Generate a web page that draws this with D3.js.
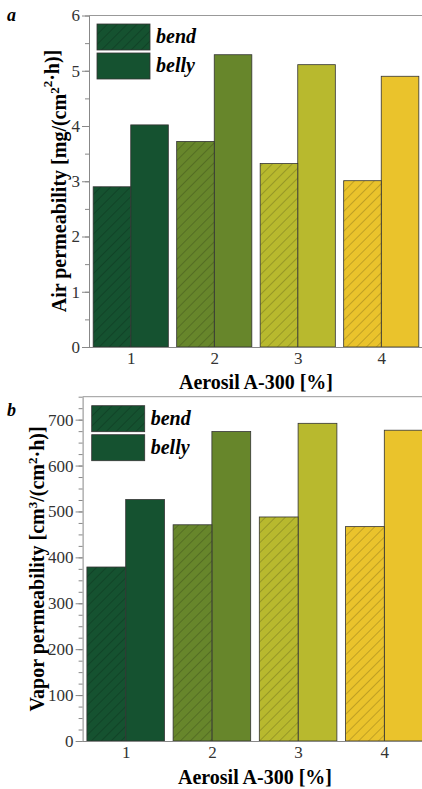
<!DOCTYPE html>
<html>
<head>
<meta charset="utf-8">
<script src="https://cdn.jsdelivr.net/npm/d3@7"></script>
<style>
  body { margin: 0; background: #fff; }
  svg { display: block; }
  text { font-family: "Liberation Serif", "DejaVu Serif", serif; }
</style>
</head>
<body>
<svg id="chart" width="422" height="789"></svg>
<script>
// aerosil content, %
const categories = [1, 2, 3, 4]
const groupColors = ['#155230', '#67862b', '#b8b92e', '#eac32c']

// air permeability, mg/(cm2*h)
const airBend = [2.90, 3.72, 3.32, 3.01]
const airBelly = [4.02, 5.29, 5.11, 4.90]
const airTicks = [0, 1, 2, 3, 4, 5, 6]

// vapor permeability, cm3/(cm2*h)
const vaporBend = [379, 471, 488, 467]
const vaporBelly = [526, 674, 692, 677]
const vaporTicks = [0, 100, 200, 300, 400, 500, 600, 700]

const seriesNames = ['bend', 'belly']

const svg = d3.select('#chart')
const serif = '"Liberation Serif", "DejaVu Serif", serif'

const defs = svg.append('defs')
const hatch = defs.append('pattern')
  .attr('id', 'hatch')
  .attr('patternUnits', 'userSpaceOnUse')
  .attr('width', 7)
  .attr('height', 7)
  .attr('patternTransform', 'rotate(45)')
hatch.append('line')
  .attr('x1', 0).attr('y1', 0).attr('x2', 0).attr('y2', 7)
  .attr('stroke', '#000')
  .attr('stroke-opacity', 0.45)
  .attr('stroke-width', 0.8)

function drawPanel(p) {
  const g = svg.append('g')

  const x = d3.scaleLinear().domain([0.5, 4.5]).range([p.left, p.right])
  const y = d3.scaleLinear().domain([0, p.yMax]).range([p.bottom, p.top])

  // frame top line
  g.append('line')
    .attr('x1', p.left).attr('x2', 422)
    .attr('y1', p.top).attr('y2', p.top)
    .attr('stroke', '#999').attr('stroke-width', 1)

  const half = 0.45
  const rows = categories.map((c, i) => ({ c, i, bend: p.bend[i], belly: p.belly[i] }))

  // belly bars
  g.selectAll('.belly').data(rows).enter().append('rect')
    .attr('class', 'belly')
    .attr('x', d => x(d.c))
    .attr('y', d => y(d.belly))
    .attr('width', d => x(d.c + half) - x(d.c))
    .attr('height', d => y(0) - y(d.belly))
    .attr('fill', d => groupColors[d.i])
    .attr('stroke', '#333').attr('stroke-width', 0.8)

  // bend bars, base colour then hatch
  g.selectAll('.bend').data(rows).enter().append('rect')
    .attr('class', 'bend')
    .attr('x', d => x(d.c - half))
    .attr('y', d => y(d.bend))
    .attr('width', d => x(d.c) - x(d.c - half))
    .attr('height', d => y(0) - y(d.bend))
    .attr('fill', d => groupColors[d.i])
  g.selectAll('.bendh').data(rows).enter().append('rect')
    .attr('class', 'bendh')
    .attr('x', d => x(d.c - half))
    .attr('y', d => y(d.bend))
    .attr('width', d => x(d.c) - x(d.c - half))
    .attr('height', d => y(0) - y(d.bend))
    .attr('fill', 'url(#hatch)')
    .attr('stroke', '#333').attr('stroke-width', 0.8)

  // y axis with minor ticks
  const minor = d3.range(0, p.yMax + 1e-9, p.minorStep)
  const yMinor = g.append('g')
    .attr('transform', `translate(${p.left},0)`)
    .call(d3.axisLeft(y).tickValues(minor).tickSize(4).tickFormat(''))
  yMinor.select('.domain').remove()
  yMinor.selectAll('line').attr('stroke', '#888')

  const yAxis = g.append('g')
    .attr('transform', `translate(${p.left},0)`)
    .call(d3.axisLeft(y).tickValues(p.ticks).tickFormat(d3.format('d'))
      .tickSize(7).tickPadding(2).tickSizeOuter(0))
  yAxis.attr('font-family', serif)
  yAxis.select('.domain').attr('stroke', '#888')
  yAxis.selectAll('line').attr('stroke', '#888')
  yAxis.selectAll('text')
    .attr('fill', '#333')
    .style('font-size', '17px')

  // x axis
  const xAxis = g.append('g')
    .attr('transform', `translate(0,${p.bottom})`)
    .call(d3.axisBottom(x).tickValues(categories).tickFormat(d3.format('d'))
      .tickSize(0).tickPadding(5).tickSizeOuter(0))
  xAxis.attr('font-family', serif)
  xAxis.select('.domain').attr('stroke', '#888').attr('d', `M${p.left},0.5H422`)
  xAxis.selectAll('text')
    .attr('fill', '#333')
    .style('font-size', '17px')

  // axis titles
  g.append('text')
    .attr('x', p.xTitleX)
    .attr('y', p.bottom + p.xTitleDy)
    .attr('text-anchor', 'middle')
    .style('font-size', '20px')
    .style('font-weight', 'bold')
    .text('Aerosil A-300 [%]')

  const yt = g.append('text')
    .attr('transform', `translate(${p.yTitleX},${p.yTitleY}) rotate(-90)`)
    .attr('text-anchor', 'middle')
    .style('font-size', '20px')
    .style('font-weight', 'bold')
  yt.append('tspan').text(p.yTitle[0])
  yt.append('tspan').attr('dy', -7).style('font-size', '13px').text(p.yTitle[1])
  yt.append('tspan').attr('dy', 7).text(p.yTitle[2])
  yt.append('tspan').attr('dy', -7).style('font-size', '13px').text('2')
  yt.append('tspan').attr('dy', 7).text('·h)]')

  // panel letter
  g.append('text')
    .attr('x', 7).attr('y', p.letterY)
    .style('font-size', '18px')
    .style('font-weight', 'bold')
    .style('font-style', 'italic')
    .text(p.letter)

  // legend
  const lg = g.append('g').attr('transform', `translate(${p.legX},${p.legY})`)
  seriesNames.forEach((name, i) => {
    const yy = i * 29
    lg.append('rect')
      .attr('x', 0).attr('y', yy).attr('width', 53).attr('height', 26)
      .attr('fill', groupColors[0])
    lg.append('rect')
      .attr('x', 0).attr('y', yy).attr('width', 53).attr('height', 26)
      .attr('fill', name === 'bend' ? 'url(#hatch)' : 'none')
      .attr('stroke', '#333').attr('stroke-width', 0.8)
    lg.append('text')
      .attr('x', 59).attr('y', yy + 19)
      .style('font-size', '20px')
      .style('font-weight', 'bold')
      .style('font-style', 'italic')
      .text(name)
  })
}

drawPanel({
  bend: airBend, belly: airBelly, ticks: airTicks, yMax: 6, minorStep: 0.5,
  left: 89, right: 423, top: 15.5, bottom: 347,
  yTitle: ['Air permeability [mg/(cm', '2', ''],
  yTitleX: 66, yTitleY: 181,
  xTitleDy: 42, xTitleX: 256,
  letter: 'a', letterY: 21,
  legX: 97, legY: 24
})

drawPanel({
  bend: vaporBend, belly: vaporBelly, ticks: vaporTicks, yMax: 750, minorStep: 25,
  left: 82.6, right: 427.4, top: 396.7, bottom: 741,
  yTitle: ['Vapor permeability [cm', '3', '/(cm'],
  yTitleX: 44, yTitleY: 569,
  xTitleDy: 43, xTitleX: 255,
  letter: 'b', letterY: 416,
  legX: 91.7, legY: 405.7
})
</script>
</body>
</html>
